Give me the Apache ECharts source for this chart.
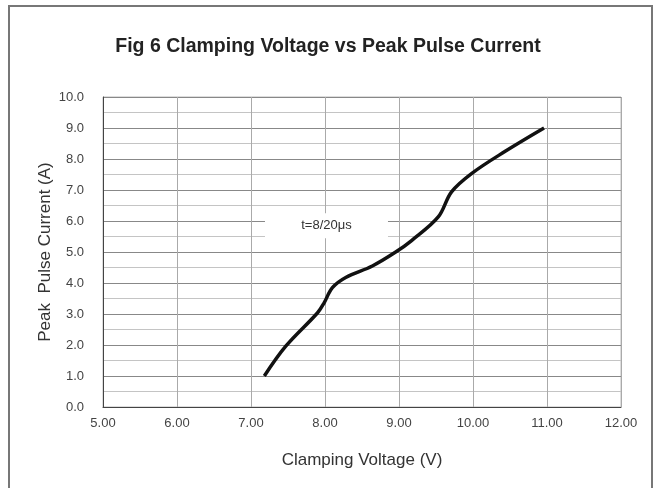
<!DOCTYPE html>
<html>
<head>
<meta charset="utf-8">
<script src="https://cdn.jsdelivr.net/npm/echarts@6/dist/echarts.min.js"></script>
<style>
html,body{margin:0;padding:0;background:#fff;}
#c{width:656px;height:488px;}
</style>
</head>
<body>
<div id="c"></div>
<script>
var titleText = 'Fig 6 Clamping Voltage vs Peak Pulse Current';
var xName = 'Clamping Voltage (V)';
var yName = 'Peak  Pulse Current (A)';
var voltage = [7.18, 7.47, 7.90, 7.99, 8.10, 8.28, 8.64, 8.95, 9.17, 9.53, 9.71, 9.98, 10.43, 10.96];
var current = [1.00, 1.96, 3.04, 3.37, 3.85, 4.18, 4.55, 4.99, 5.37, 6.13, 6.94, 7.53, 8.24, 9.00];
var noteText = 't=8/20μs';
var notePos = [8.02, 5.85];

var chart = echarts.init(document.getElementById('c'), null, {renderer: 'canvas'});
var pts = voltage.map(function (v, i) { return [v, current[i]]; });
var font = 'Liberation Sans, Arial, sans-serif';
chart.setOption({
  animation: false,
  backgroundColor: '#fff',
  title: {
    text: titleText, left: 'center', top: 32,
    textStyle: {fontFamily: font, fontSize: 19.5, fontWeight: 'bold', color: '#222'}
  },
  graphic: [{
    type: 'rect', silent: true, z: -1,
    shape: {x: 9, y: 6, width: 643, height: 520},
    style: {fill: 'none', stroke: '#777', lineWidth: 2}
  }],
  grid: {left: 103, right: 35, top: 97, bottom: 81, show: true, borderColor: '#bbb', borderWidth: 1, backgroundColor: 'transparent'},
  xAxis: {
    type: 'value', min: 5, max: 12, interval: 1,
    name: xName, nameLocation: 'middle', nameGap: 45,
    nameTextStyle: {fontFamily: font, fontSize: 17, color: '#333'},
    axisLine: {show: true, lineStyle: {color: '#444', width: 1}},
    axisTick: {show: false},
    axisLabel: {fontFamily: font, fontSize: 13, color: '#444', margin: 10,
      formatter: function (v) { return v.toFixed(2); }},
    splitLine: {show: true, lineStyle: {color: '#aaa', width: 1}}
  },
  yAxis: {
    type: 'value', min: 0, max: 10, interval: 1,
    name: yName, nameLocation: 'middle', nameGap: 49, nameMoveOverlap: false,
    nameTextStyle: {fontFamily: font, fontSize: 17, color: '#333'},
    axisLine: {show: true, lineStyle: {color: '#444', width: 1}},
    axisTick: {show: false},
    axisLabel: {fontFamily: font, fontSize: 13, color: '#444', margin: 19,
      formatter: function (v) { return v.toFixed(1); }},
    splitLine: {show: true, lineStyle: {color: '#888', width: 1}},
    minorTick: {show: false, splitNumber: 2},
    minorSplitLine: {show: true, lineStyle: {color: '#c4c4c4', width: 1}}
  },
  series: [{
    type: 'line', data: pts, smooth: 0.35, showSymbol: false, symbol: 'none',
    lineStyle: {color: '#111', width: 3.5},
    markPoint: {
      silent: true, symbol: 'rect', symbolSize: [123, 25],
      itemStyle: {color: '#fff'},
      label: {show: true, position: 'inside', formatter: noteText,
        fontFamily: font, fontSize: 13, color: '#333'},
      data: [{coord: notePos}]
    }
  }]
});
</script>
</body>
</html>
